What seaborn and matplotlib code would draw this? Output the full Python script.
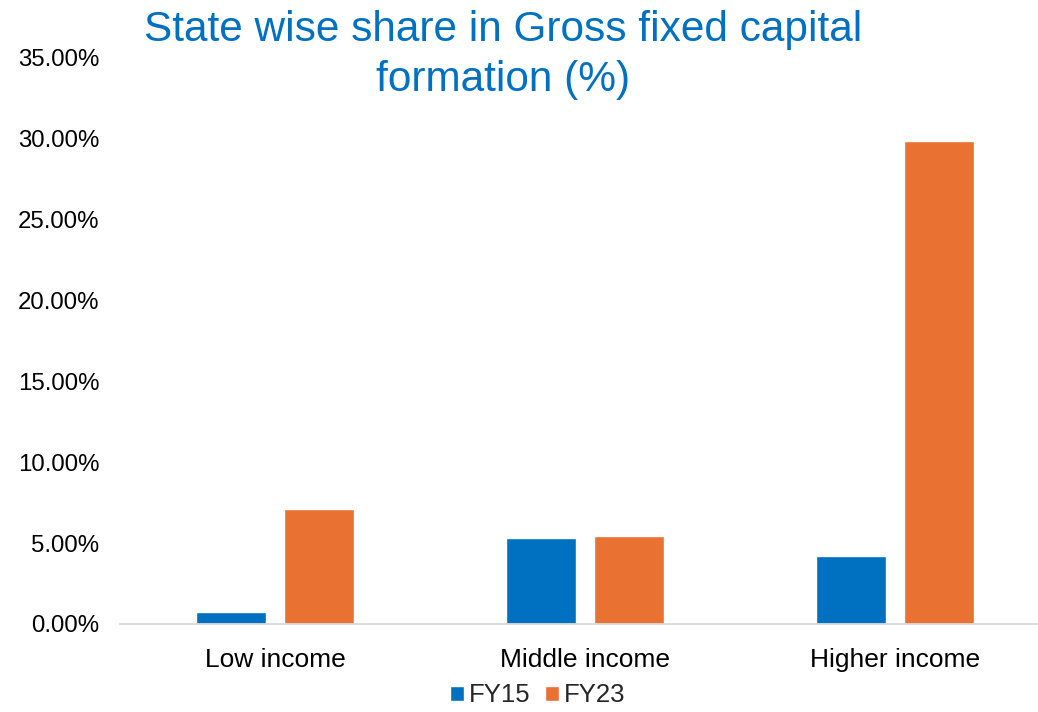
import matplotlib
matplotlib.use("Agg")
import matplotlib.pyplot as plt
import seaborn as sns
import pandas as pd
from matplotlib.ticker import FuncFormatter, MultipleLocator
from matplotlib.patches import Patch

categories = ["Low income", "Middle income", "Higher income"]
series = ["FY15", "FY23"]
fy15 = [0.72, 5.31, 4.20]
fy23 = [7.12, 5.43, 29.87]
title = "State wise share in Gross fixed capital\nformation (%)"

colors = {"FY15": "#0070C0", "FY23": "#E97132"}

df = pd.DataFrame({
    "Category": categories * 2,
    "Series": [series[0]] * 3 + [series[1]] * 3,
    "Value": fy15 + fy23,
})

sns.set_theme(style="white")
plt.rcParams["font.family"] = ["Liberation Sans", "DejaVu Sans"]

fig = plt.figure(figsize=(10.38, 7.12), dpi=100)
ax = fig.add_axes([120 / 1038, 1 - 624 / 712, 1 - 120 / 1038, (624 - 58) / 712])

sns.barplot(data=df, x="Category", y="Value", hue="Series", order=categories,
            hue_order=series, palette=colors, width=0.571, gap=0.21,
            saturation=1, ax=ax, legend=False)

ax.set_ylim(0, 35)
ax.set_xlim(-0.5, (1038 - 120) / 310 - 0.5)
ax.yaxis.set_major_locator(MultipleLocator(5))
ax.yaxis.set_major_formatter(FuncFormatter(lambda v, p: f"{v:.2f}%"))
ax.set_xlabel("")
ax.set_ylabel("")
for s in ["top", "right", "left"]:
    ax.spines[s].set_visible(False)
ax.spines["bottom"].set_color("#D9D9D9")
ax.spines["bottom"].set_linewidth(1.3)
ax.tick_params(axis="y", length=0, pad=15, labelsize=17.3, labelcolor="#000000")
ax.tick_params(axis="x", length=0, pad=17, labelsize=19, labelcolor="#000000")
ax.grid(False)

fig.text(0.485, 0.986, title, ha="center", va="top", fontsize=30.5,
         color="#0070C0", linespacing=1.32)

handles = [Patch(facecolor=colors[s], label=s) for s in series]
fig.legend(handles=handles, loc="lower center", bbox_to_anchor=(0.518, -0.026),
           ncol=2, frameon=False, fontsize=18.5, handlelength=0.55,
           handleheight=0.55, handletextpad=0.2, columnspacing=0.55)

fig.savefig("out.png", dpi=100)
